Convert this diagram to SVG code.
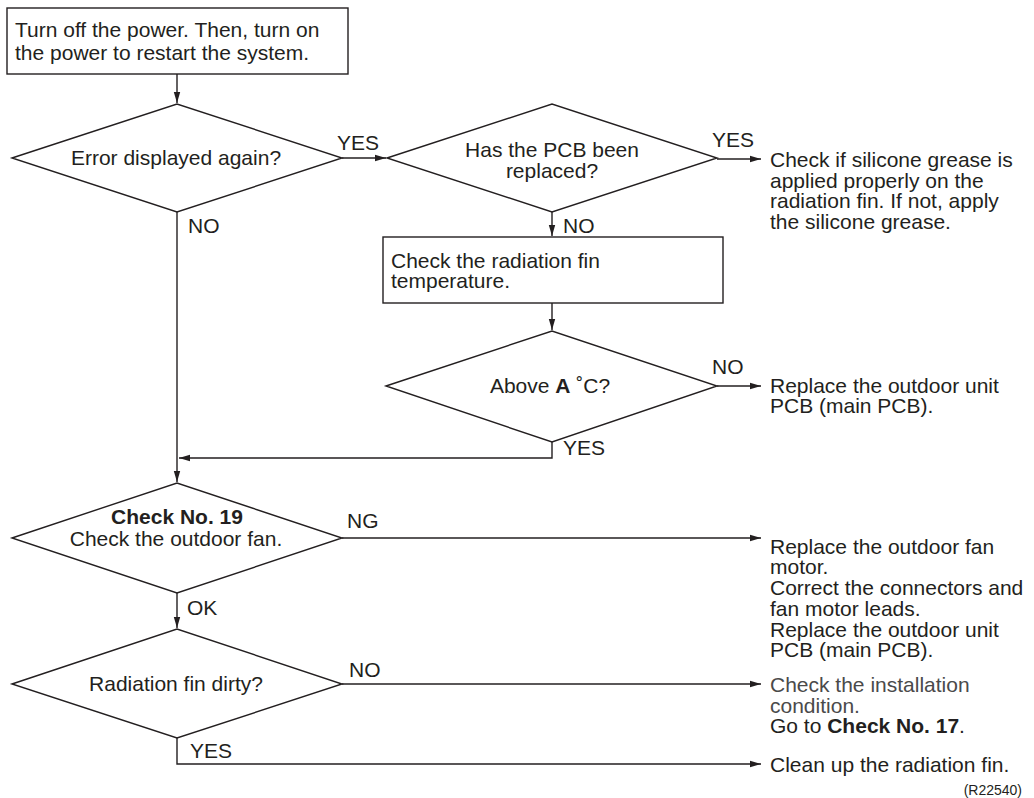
<svg xmlns="http://www.w3.org/2000/svg" width="1034" height="798" viewBox="0 0 1034 798">
<style>
text{font-family:"Liberation Sans",Arial,Helvetica,sans-serif;font-size:21px;fill:#231f20}
.c{text-anchor:middle}
.b{font-weight:bold}
.shape{fill:#fff;stroke:#231f20;stroke-width:1.4}
.conn{fill:none;stroke:#231f20;stroke-width:1.4}
.gray{fill:#4a4a4a}
</style>
<defs>
<marker id="ah" markerUnits="userSpaceOnUse" markerWidth="12" markerHeight="8" refX="11" refY="4" orient="auto">
<path d="M0,0.8 L11,4 L0,7.2 Z" fill="#231f20"/>
</marker>
</defs>
<rect width="1034" height="798" fill="#fff"/>
<g id="connectors">
<path class="conn" d="M177 74 V103" marker-end="url(#ah)"/>
<path class="conn" d="M342 158 H386" marker-end="url(#ah)"/>
<path class="conn" d="M177 212 V482" marker-end="url(#ah)"/>
<path class="conn" d="M717 159 H761" marker-end="url(#ah)"/>
<path class="conn" d="M552 212 V236" marker-end="url(#ah)"/>
<path class="conn" d="M552 303 V330" marker-end="url(#ah)"/>
<path class="conn" d="M717 386 H761" marker-end="url(#ah)"/>
<path class="conn" d="M552 442 V458 H179" marker-end="url(#ah)"/>
<path class="conn" d="M342 538 H761" marker-end="url(#ah)"/>
<path class="conn" d="M177 593 V628" marker-end="url(#ah)"/>
<path class="conn" d="M342 684 H761" marker-end="url(#ah)"/>
<path class="conn" d="M177 738 V764 H761" marker-end="url(#ah)"/>
<text x="337" y="150">YES</text>
<text x="188" y="233">NO</text>
<text x="712" y="147">YES</text>
<text x="563" y="233">NO</text>
<text x="712" y="374">NO</text>
<text x="563" y="455">YES</text>
<text x="347" y="528">NG</text>
<text x="187" y="615">OK</text>
<text x="349" y="677">NO</text>
<text x="190" y="758">YES</text>
</g>
<g id="start">
<rect class="shape" x="7" y="8" width="341" height="66"/>
<text x="15" y="37">Turn off the power. Then, turn on</text>
<text x="15" y="60">the power to restart the system.</text>
</g>
<g id="d-error">
<polygon class="shape" points="12,158 177,104 342,158 177,212"/>
<text class="c" x="176" y="165">Error displayed again?</text>
</g>
<g id="d-pcb">
<polygon class="shape" points="387,158 552,104 717,158 552,212"/>
<text class="c" x="552" y="157">Has the PCB been</text>
<text class="c" x="552" y="178">replaced?</text>
</g>
<g id="r-grease">
<text x="770" y="167">Check if silicone grease is</text>
<text x="770" y="188">applied properly on the</text>
<text x="770" y="208">radiation fin. If not, apply</text>
<text x="770" y="229">the silicone grease.</text>
</g>
<g id="b-temp">
<rect class="shape" x="383" y="237" width="340" height="66"/>
<text x="391" y="268">Check the radiation fin</text>
<text x="391" y="288">temperature.</text>
</g>
<g id="d-above">
<polygon class="shape" points="386,386 552,331 717,386 552,442"/>
<text class="c" x="550" y="393">Above <tspan class="b">A</tspan> ˚C?</text>
</g>
<g id="r-pcb">
<text x="770" y="393">Replace the outdoor unit</text>
<text x="770" y="413">PCB (main PCB).</text>
</g>
<g id="d-fan">
<polygon class="shape" points="12,538 177,483 342,538 177,593"/>
<text class="c b" x="177" y="524">Check No. 19</text>
<text class="c" x="176" y="546">Check the outdoor fan.</text>
</g>
<g id="r-fan">
<text x="770" y="554">Replace the outdoor fan</text>
<text x="770" y="574">motor.</text>
<text x="770" y="595">Correct the connectors and</text>
<text x="770" y="616">fan motor leads.</text>
<text x="770" y="637">Replace the outdoor unit</text>
<text x="770" y="657">PCB (main PCB).</text>
</g>
<g id="d-dirty">
<polygon class="shape" points="12,684 177,629 342,684 177,738"/>
<text class="c" x="176" y="691">Radiation fin dirty?</text>
</g>
<g id="r-install">
<text class="gray" x="770" y="692">Check the installation</text>
<text class="gray" x="770" y="713">condition.</text>
<text x="770" y="733">Go to <tspan class="b">Check No. 17</tspan>.</text>
</g>
<g id="r-clean">
<text x="770" y="772">Clean up the radiation fin.</text>
</g>
<text x="1022" y="795" style="font-size:14px;text-anchor:end">(R22540)</text>
</svg>
